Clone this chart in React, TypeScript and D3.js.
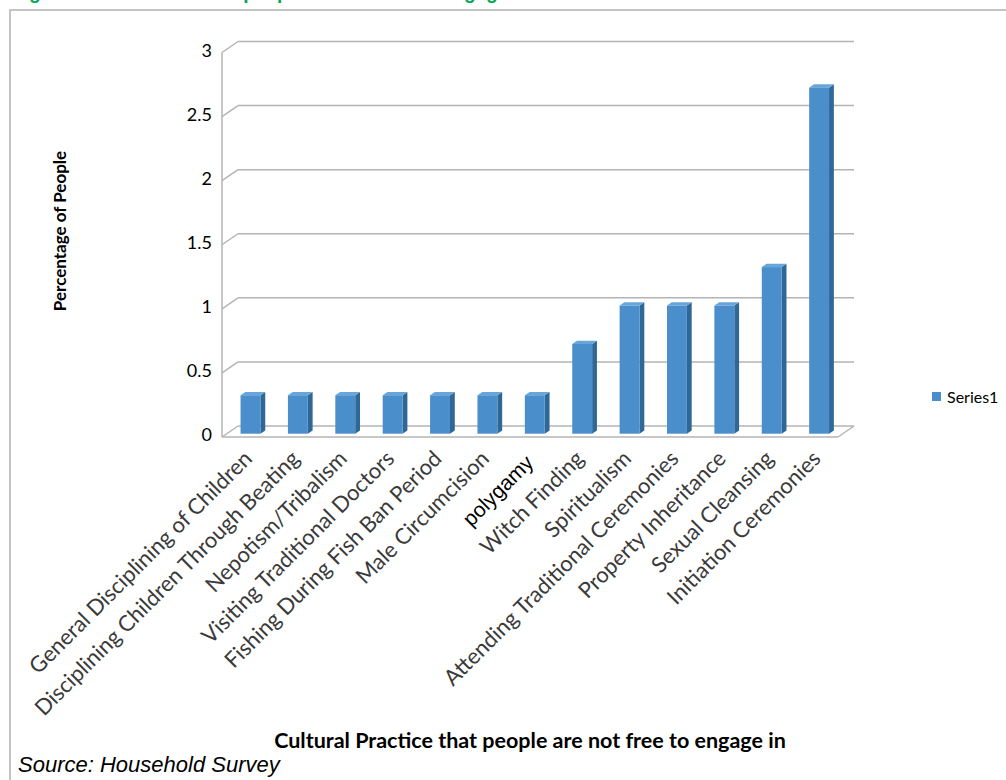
import React from "react";
import * as d3 from "d3";

const categories: string[] = [
  "General Disciplining of Children",
  "Disciplining Children Through Beating",
  "Nepotism/Tribalism",
  "Visiting Traditional Doctors",
  "Fishing During Fish Ban Period",
  "Male Circumcision",
  "polygamy",
  "Witch Finding",
  "Spiritualism",
  "Attending Traditional Ceremonies",
  "Property Inheritance",
  "Sexual Cleansing",
  "Initiation Ceremonies",
];
const values: number[] = [0.3, 0.3, 0.3, 0.3, 0.3, 0.3, 0.3, 0.7, 1, 1, 1, 1.3, 2.7];
const yTicks: number[] = [0, 0.5, 1, 1.5, 2, 2.5, 3];
const yTickLabels: string[] = ["0", "0.5", "1", "1.5", "2", "2.5", "3"];
const seriesName = "Series1";
const yTitle = "Percentage of People";
const xTitle = "Cultural Practice that people are not free to engage in";
const figTitle = "Figure 4.9: Practices that people are not free to engage in";
const sourceText = "Source: Household Survey";

const W = 1006;
const H = 780;
const DX = 16;
const DY = -11;
const x0 = 222;
const x1 = 838;
const yBase = 437;
const yTopV = 52.5;
const barF0 = 0.3;
const barF1 = 0.6;

const FRONT = "#4A8FCB";
const SIDE = "#2F6796";
const TOP = "#66A6DA";
const GRID = "#B4B4B4";
const FONT = "Lato, 'Open Sans', sans-serif";

export default function App() {
  const x = d3.scaleBand<string>().domain(categories).range([x0, x1]).paddingInner(0.58).paddingOuter(0.29);
  const y = d3.scaleLinear().domain([0, 3]).range([yBase, yTopV]);
  const bw = x.bandwidth();

  return (
    <svg width={W} height={H} style={{ position: "absolute", left: 0, top: 0, background: "#fff" }}>
      <text x={12} y={-1} fill="#00A651" fontFamily="Arial, 'Liberation Sans', sans-serif" fontWeight="bold" fontSize={19}>
        {figTitle}
      </text>
      <rect x={10} y={10} width={1010} height={790} fill="none" stroke="#C4C4C4" strokeWidth={2} />

      {/* walls and grid */}
      <line x1={x0} y1={y(0)} x2={x0} y2={y(3)} stroke={GRID} strokeWidth={1.5} />
      {yTicks.map((t) => (
        <g key={t}>
          <line x1={x0} y1={y(t)} x2={x0 + DX} y2={y(t) + DY} stroke={GRID} strokeWidth={1.5} />
          <line x1={x0 + DX} y1={y(t) + DY} x2={x1 + DX} y2={y(t) + DY} stroke={GRID} strokeWidth={1.5} />
        </g>
      ))}
      <line x1={x0} y1={y(0)} x2={x1} y2={y(0)} stroke={GRID} strokeWidth={1.5} />
      <line x1={x1} y1={y(0)} x2={x1 + DX} y2={y(0) + DY} stroke={GRID} strokeWidth={1.5} />

      {yTicks.map((t, i) => (
        <text key={t} x={212} y={y(t) - 2} dy="0.35em" textAnchor="end" fontFamily={FONT} fontSize={18} fill="#000">
          {yTickLabels[i]}
        </text>
      ))}

      {/* bars */}
      {categories.map((c, i) => {
        const v = values[i];
        const bx = (x(c) as number) + DX * barF0;
        const by0 = y(0) + DY * barF0;
        const byT = y(v) + DY * barF0;
        const ddx = DX * (barF1 - barF0);
        const ddy = DY * (barF1 - barF0);
        return (
          <g key={c}>
            <path d={`M${bx + bw},${byT} L${bx + bw + ddx},${byT + ddy} L${bx + bw + ddx},${by0 + ddy} L${bx + bw},${by0} Z`} fill={SIDE} />
            <path d={`M${bx},${byT} L${bx + ddx},${byT + ddy} L${bx + bw + ddx},${byT + ddy} L${bx + bw},${byT} Z`} fill={TOP} />
            <rect x={bx} y={byT} width={bw} height={by0 - byT} fill={FRONT} />
          </g>
        );
      })}

      {/* category labels */}
      {categories.map((c) => {
        const cx = (x(c) as number) + bw / 2 + DX * barF0;
        const poly = c === "polygamy";
        const ax = poly ? cx : cx + 3;
        const ay = poly ? 464 : 460;
        return (
          <text
            key={c}
            transform={`translate(${ax},${ay}) rotate(-45)`}
            textAnchor="end"
            fontFamily={poly ? "'Liberation Sans', Arial, sans-serif" : FONT}
            fontSize={poly ? 21 : 22}
            fill={poly ? "#000" : "#3a3a3a"}
          >
            {c}
          </text>
        );
      })}

      <text transform="translate(66,231) rotate(-90)" textAnchor="middle" fontFamily={FONT} fontWeight="bold" fontSize={17} fill="#000">
        {yTitle}
      </text>
      <text x={530} y={748} textAnchor="middle" fontFamily={FONT} fontWeight="bold" fontSize={21.5} fill="#000">
        {xTitle}
      </text>
      <text x={18} y={772} fontFamily="Arial, 'Liberation Sans', sans-serif" fontStyle="italic" fontSize={22} fill="#000">
        {sourceText}
      </text>

      <rect x={932} y={392} width={9} height={9} fill={FRONT} />
      <text x={947} y={397} dy="0.35em" fontFamily={FONT} fontSize={16} fill="#000">
        {seriesName}
      </text>
    </svg>
  );
}
